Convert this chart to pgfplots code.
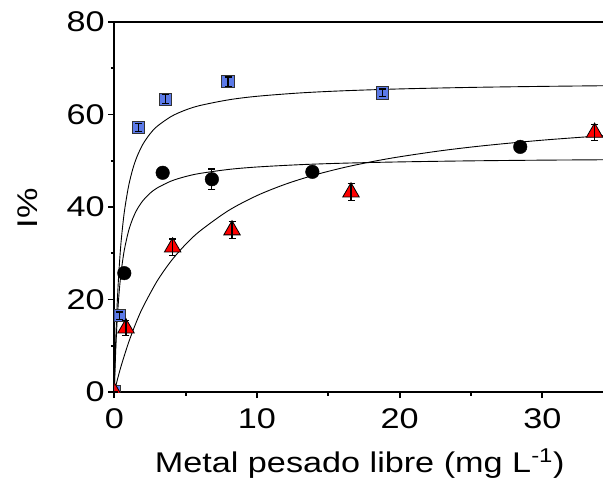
\documentclass[border=0pt]{standalone}
\usepackage{pgfplots}
\pgfplotsset{compat=1.18}
\usepackage{fontspec}
\setmainfont{Liberation Sans}[FakeStretch=1.2]
\definecolor{sqblue}{RGB}{92,122,232}
\begin{document}
\begin{tikzpicture}
\useasboundingbox (-114.3pt,-88pt) rectangle (488.7pt,392pt);
\begin{axis}[
  scale only axis, width=493.7pt, height=370pt,
  at={(0,0)}, anchor=south west,
  xmin=0, xmax=34.6, ymin=0, ymax=80,
  axis line style={line width=2.2pt},
  xtick pos=bottom, ytick pos=left,
  xtick={0,10,20,30}, ytick={0,20,40,60,80},
  minor x tick num=1, minor y tick num=1,
  tick align=outside, major tick length=6pt, minor tick length=3.5pt,
  tick style={black, line width=1.8pt},
  clip marker paths=true,
  /pgf/number format/assume math mode=true,
  tick label style={font=\fontsize{28.5}{34}\selectfont},
  xticklabel style={yshift=-7pt},
  label style={font=\fontsize{28.5}{34}\selectfont},
  xlabel={Metal pesado libre (mg L\textsuperscript{-1})},
  ylabel={I\%},
  xlabel style={at={(axis description cs:0.497,0)}, anchor=base, yshift=-80pt},
  ylabel style={at={(axis description cs:-0.176,0.497)}, anchor=center},
]
% fitted curves
\addplot[black, line width=0.9pt, smooth, mark=none] coordinates {
(0,0) (0.02,2.54) (0.05,6.00) (0.1,11.02) (0.15,15.27) (0.2,18.93) (0.3,24.89) (0.4,29.54) (0.5,33.27) (0.7,38.88) (1.0,44.50) (1.3,48.27) (1.6,50.96) (2.0,53.55) (2.5,55.81) (3,57.44) (4,59.60) (5,60.98) (6,61.94) (8,63.17) (10,63.94) (13,64.66) (16,65.12) (20,65.53) (25,65.86) (30,66.08) (34.6,66.23)};
\addplot[black, line width=0.9pt, smooth, mark=none] coordinates {
(0,0) (0.02,2.11) (0.05,4.97) (0.1,9.06) (0.15,12.48) (0.2,15.38) (0.3,20.04) (0.4,23.62) (0.5,26.46) (0.7,30.66) (1.0,34.82) (1.3,37.55) (1.6,39.50) (2.0,41.35) (2.5,42.96) (3,44.11) (4,45.63) (5,46.59) (6,47.26) (8,48.12) (10,48.65) (13,49.15) (16,49.47) (20,49.75) (25,49.98) (30,50.13) (34.6,50.22)};
\addplot[black, line width=0.9pt, smooth, mark=none] coordinates {
(0,0) (0.25,3.06) (0.5,5.84) (1,10.69) (1.5,14.79) (2,18.30) (3,23.98) (4,28.40) (5,31.92) (6,34.80) (8,39.23) (10,42.47) (12,44.94) (14,46.89) (16,48.47) (18,49.77) (20,50.86) (23,52.21) (26,53.29) (30,54.45) (34.6,55.50)};
\pgfplotstableread{
x y e
0 0 0
0.35 16.5 0.8
1.70 57.2 0.8
3.57 63.3 1.0
7.97 67.1 1.0
18.8 64.7 0.8
}\blue
\pgfplotstableread{
x y e
0.70 25.7 1.0
3.39 47.4 1.0
6.84 46.0 2.2
13.88 47.6 1.0
28.45 53.0 1.0
}\black
\pgfplotstableread{
x y e
0 0 0
0.82 13.8 1.6
4.09 31.3 1.8
8.25 35.0 1.8
16.59 43.2 1.8
33.66 56.1 1.8
}\red
\addplot[only marks, mark=square*, mark size=6.2pt, mark options={fill=sqblue, draw=black!80, line width=0.8pt}]
  table[x=x, y=y] {\blue};
\addplot[only marks, mark=*, mark size=6.8pt, mark options={fill=black, draw=black}]
  table[x=x, y=y] {\black};
\addplot[only marks, mark=triangle*, mark size=9.5pt, mark options={fill=red, draw=black, line width=0.8pt}]
  table[x=x, y=y] {\red};
% error bars on top
\pgfplotsset{ebar/.style={draw=none, mark=none, forget plot,
  error bars/.cd, y dir=both, y explicit, error bar style={black, line width=1.2pt},
  error mark options={black, rotate=90, mark size=3.5pt, line width=1.2pt}}}
\addplot[ebar] table[x=x, y=y, y error=e] {\blue};
\addplot[ebar] table[x=x, y=y, y error=e] {\black};
\addplot[ebar] table[x=x, y=y, y error=e] {\red};
\end{axis}
\end{tikzpicture}
\end{document}
